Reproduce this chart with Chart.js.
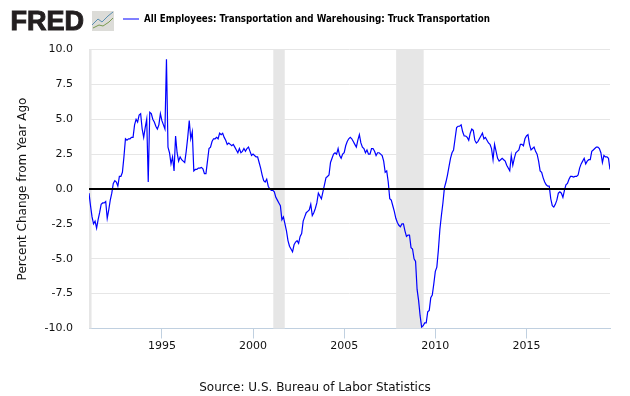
<!DOCTYPE html>
<html>
<head>
<meta charset="utf-8">
<style>
  html, body { margin: 0; padding: 0; background: #fff; }
  canvas { display: block; }
</style>
<script src="https://cdn.jsdelivr.net/npm/chart.js@4"></script>
</head>
<body>
<canvas id="myChart" width="630" height="396"></canvas>
<script>
var seriesName = 'All Employees: Transportation and Warehousing: Truck Transportation';
var yAxisTitle = 'Percent Change from Year Ago';
var sourceText = 'Source: U.S. Bureau of Labor Statistics';

var startYear = 1991;
// monthly, one row per year
var values = [
  -0.3, -1.2, -2.0, -2.5, -2.3, -2.8, -2.2, -1.7, -1.1, -1.0, -1.0, -0.9,
  -2.1, -1.5, -0.8, -0.3, 0.4, 0.6, 0.5, 0.2, 0.9, 0.9, 1.2, 2.3,
  3.6, 3.5, 3.6, 3.6, 3.7, 3.7, 4.6, 5.0, 4.8, 5.3, 5.4, 4.3,
  3.7, 4.4, 5.0, 0.5, 5.5, 5.4, 5.0, 4.8, 4.5, 4.3, 4.6, 5.4,
  4.9, 4.6, 4.3, 9.3, 3.0, 2.6, 1.8, 2.3, 1.3, 3.8, 2.6, 2.0,
  2.3, 2.1, 2.0, 1.9, 2.7, 3.7, 4.9, 3.6, 4.1, 1.3, 1.4, 1.4,
  1.5, 1.5, 1.55, 1.45, 1.1, 1.1, 2.0, 2.9, 3.0, 3.4, 3.6, 3.6,
  3.7, 3.6, 4.0, 3.9, 4.0, 3.7, 3.5, 3.2, 3.3, 3.2, 3.1, 3.2,
  3.0, 2.8, 2.6, 2.9, 2.6, 2.7, 2.9, 2.7, 2.9, 3.0, 2.7, 2.4,
  2.5, 2.4, 2.3, 2.3, 1.9, 1.5, 1.0, 0.6, 0.5, 0.7, 0.2, 0.0,
  -0.1, -0.1, -0.2, -0.6, -0.8, -1.0, -1.2, -2.2, -2.0, -2.5, -3.0, -3.7,
  -4.1, -4.3, -4.5, -4.0, -3.8, -3.7, -3.9, -3.4, -3.2, -2.3, -2.0, -1.7,
  -1.6, -1.5, -1.1, -1.9, -1.7, -1.4, -1.0, -0.3, -0.5, -0.7, -0.2, 0.3,
  0.8, 0.9, 1.0, 1.9, 2.2, 2.5, 2.6, 2.5, 2.9, 2.4, 2.2, 2.5,
  2.6, 3.1, 3.4, 3.6, 3.7, 3.6, 3.4, 3.2, 3.0, 3.5, 3.9, 3.3,
  3.0, 2.9, 2.6, 2.8, 2.5, 2.5, 2.9, 2.9, 2.7, 2.4, 2.6, 2.6,
  2.5, 2.4, 2.0, 1.2, 1.3, 0.5, -0.7, -0.8, -1.2, -1.6, -2.1, -2.4,
  -2.6, -2.7, -2.5, -2.5, -3.0, -3.4, -3.3, -3.3, -4.2, -4.3, -5.0, -5.2,
  -7.2, -8.0, -9.1, -9.9, -9.8, -9.6, -9.6, -8.8, -8.7, -7.8, -7.6, -6.8,
  -5.9, -5.6, -4.4, -2.9, -1.9, -1.0, 0.1, 0.5, 1.0, 1.6, 2.2, 2.6,
  2.8, 3.6, 4.4, 4.5, 4.5, 4.6, 4.1, 3.8, 3.8, 3.7, 3.5, 4.0,
  4.3, 4.2, 3.5, 3.3, 3.4, 3.6, 3.8, 4.0, 3.6, 3.7, 3.5, 3.3,
  3.2, 2.9, 2.1, 3.2, 2.7, 2.2, 2.0, 2.1, 2.2, 2.1, 2.0, 1.7,
  1.5, 1.3, 2.4, 1.7, 2.2, 2.6, 2.7, 2.8, 3.2, 3.2, 3.1, 3.6,
  3.8, 3.9, 3.2, 2.8, 2.9, 3.0, 2.7, 2.5, 2.0, 1.3, 1.2, 0.8,
  0.5, 0.3, 0.2, 0.2, -0.7, -1.2, -1.3, -1.1, -0.8, -0.3, -0.2, -0.3,
  -0.6, -0.1, 0.3, 0.4, 0.7, 0.9, 0.9, 0.85, 0.9, 0.9, 1.0, 1.5,
  1.8, 2.0, 2.2, 1.8, 2.0, 2.1, 2.1, 2.7, 2.8, 2.9, 3.0, 3.0,
  2.9, 2.6, 1.9, 2.4, 2.3, 2.3, 2.2, 1.4
];
var xTicks = [1995, 2000, 2005, 2010, 2015];
var yTicks = [-10, -7.5, -5, -2.5, 0, 2.5, 5, 7.5, 10];
var recessionStart = [1990.5, 2001.11, 2007.85];
var recessionEnd = [1991.14, 2001.74, 2009.36];

var xMin = startYear;
var xMax = startYear + (values.length - 1) / 12;

var points = values.map(function (v, i) {
  return { x: startYear + i / 12, y: v };
});

// grey recession bars, under the lines
var recessionBars = {
  id: 'recessionBars',
  beforeDatasetsDraw: function (chart) {
    var ctx = chart.ctx, a = chart.chartArea, x = chart.scales.x;
    ctx.save();
    ctx.fillStyle = '#e6e6e6';
    recessionStart.forEach(function (s, i) {
      var x0 = Math.max(x.getPixelForValue(s), a.left);
      var x1 = x.getPixelForValue(recessionEnd[i]);
      ctx.fillRect(x0, a.top, x1 - x0, a.bottom - a.top);
    });
    ctx.restore();
  }
};

// FRED logo, legend entry and source line
var pageTexts = {
  id: 'pageTexts',
  afterDraw: function (chart) {
    var ctx = chart.ctx;
    ctx.save();
    ctx.textBaseline = 'alphabetic';
    ctx.textAlign = 'left';

    ctx.fillStyle = '#231f20';
    ctx.strokeStyle = '#231f20';
    ctx.lineWidth = 1;
    ctx.font = 'bold 27px "Liberation Sans"';
    ctx.fillText('FRED', 10.5, 30, 75);
    ctx.strokeText('FRED', 10.5, 30, 75);

    ctx.fillStyle = '#dcdcd8';
    ctx.fillRect(92, 11, 22, 20);
    ctx.lineWidth = 1;
    ctx.strokeStyle = '#5a8fb0';
    ctx.beginPath();
    ctx.moveTo(92, 25); ctx.lineTo(98, 19); ctx.lineTo(102, 22); ctx.lineTo(108, 16); ctx.lineTo(113, 12);
    ctx.stroke();
    ctx.strokeStyle = '#7a9a50';
    ctx.beginPath();
    ctx.moveTo(93, 28); ctx.lineTo(99, 25); ctx.lineTo(103, 26); ctx.lineTo(109, 22); ctx.lineTo(113, 18);
    ctx.stroke();

    ctx.strokeStyle = '#0000ff';
    ctx.lineWidth = 1;
    ctx.beginPath();
    ctx.moveTo(123, 19);
    ctx.lineTo(139, 19);
    ctx.stroke();

    ctx.fillStyle = '#000';
    ctx.font = 'bold 10px "DejaVu Sans Condensed", "DejaVu Sans"';
    ctx.fillText(seriesName, 144, 22, 346);

    ctx.fillStyle = '#111';
    ctx.font = '12px "DejaVu Sans"';
    ctx.textAlign = 'center';
    ctx.fillText(sourceText, 315, 391);
    ctx.restore();
  }
};

var ctx = document.getElementById('myChart').getContext('2d');

var myChart = new Chart(ctx, {
  type: 'line',
  data: {
    datasets: [{
      label: 'Zero',
      data: [{ x: xMin, y: 0 }, { x: xMax, y: 0 }],
      borderColor: '#000',
      borderWidth: 2,
      pointRadius: 0,
      order: 0
    }, {
      label: seriesName,
      data: points,
      borderColor: '#0000ff',
      borderWidth: 1.2,
      pointRadius: 0,
      tension: 0,
      order: 1
    }]
  },
  options: {
    responsive: false,
    animation: false,
    events: [],
    layout: { padding: { top: 49.5, right: 20, left: 0, bottom: 0 } },
    plugins: {
      legend: { display: false },
      tooltip: { enabled: false }
    },
    scales: {
      x: {
        type: 'linear',
        min: xMin,
        max: xMax,
        afterBuildTicks: function (scale) {
          scale.ticks = xTicks.map(function (v) { return { value: v }; });
        },
        afterFit: function (scale) { scale.height = 67.5; },
        grid: { drawOnChartArea: false, color: '#c0d0e0', tickLength: 10 },
        border: { color: '#c0d0e0' },
        ticks: {
          autoSkip: false,
          maxRotation: 0,
          padding: 1,
          color: '#111',
          font: { family: '"DejaVu Sans"', size: 11 },
          callback: function (v) { return String(v); }
        }
      },
      y: {
        min: -10,
        max: 10,
        afterBuildTicks: function (scale) {
          scale.ticks = yTicks.map(function (v) { return { value: v }; });
        },
        afterFit: function (scale) { scale.width = 89; },
        grid: { color: '#e6e6e6', drawTicks: false },
        border: { display: false },
        title: {
          display: true,
          text: yAxisTitle,
          color: '#111',
          font: { family: '"DejaVu Sans"', size: 12 },
          padding: { top: 16, bottom: 0 }
        },
        ticks: {
          padding: 16,
          color: '#111',
          font: { family: '"DejaVu Sans"', size: 11 },
          callback: function (v) { return v.toFixed(1); }
        }
      }
    }
  },
  plugins: [recessionBars, pageTexts]
});
</script>
</body>
</html>
